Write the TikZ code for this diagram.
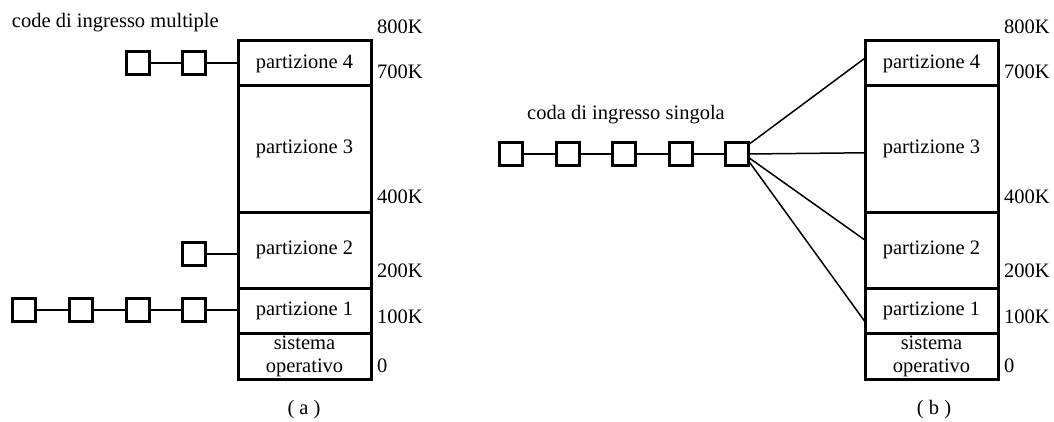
\documentclass[tikz,border=0pt]{standalone}
\usepackage{fontspec}
\setmainfont{Liberation Serif}
\usetikzlibrary{calc}

% one memory column: five stacked partitions plus the address labels
\newcommand\memblock[2]{%
  \node[part, minimum height=45pt]  (#1p4) at (#2,41) {partizione 4};
  \node[part, minimum height=126pt] (#1p3) at (#1p4.south west) {partizione 3};
  \node[part, minimum height=76pt]  (#1p2) at (#1p3.south west) {partizione 2};
  \node[part, minimum height=45pt]  (#1p1) at (#1p2.south west) {partizione 1};
  \node[part, minimum height=46pt, align=center] (#1os) at (#1p1.south west) {sistema\\operativo};
  \node[addr] (#1k800) at ($(#1p4.north east)+(6,-14)$) {800K};
  \node[addr] (#1k700) at ($(#1p4.south east)+(6,-14)$) {700K};
  \node[addr] (#1k400) at ($(#1p3.south east)+(6,-15)$) {400K};
  \node[addr] (#1k200) at ($(#1p2.south east)+(6,-17)$) {200K};
  \node[addr] (#1k100) at ($(#1p1.south east)+(6,-16)$) {100K};
  \node[addr] (#1k0)   at ($(#1os.south east)+(6,-13)$) {0};
}

\begin{document}
\begin{tikzpicture}[x=1pt,y=-1pt,
  every node/.style={font=\fontsize{20.5}{23}\selectfont, inner sep=0pt, outer sep=0pt},
  part/.style={draw, line width=3pt, minimum width=133pt, anchor=north west},
  addr/.style={anchor=west},
  sq/.style={draw, line width=3pt, minimum size=23pt},
  link/.style={line width=2pt},
  fan/.style={line width=1.5pt}]
\useasboundingbox (0,0) rectangle (1054,422);

% (a) separate input queues
\memblock{a}{238}
\node[anchor=west] (titlea) at (12,22.5) {code di ingresso multiple};

\node[sq] (q41) at (137.5,63) {};
\node[sq] (q42) at (193.5,63) {};
\draw[link] (q41) -- (q42);
\draw[link] (q42.east) -- (q42.east -| ap4.west);

\node[sq] (q21) at (193.5,254) {};
\draw[link] (q21.east) -- (q21.east -| ap2.west);

\node[sq] (q11) at (24,310) {};
\node[sq] (q12) at (81,310) {};
\node[sq] (q13) at (137.5,310) {};
\node[sq] (q14) at (193.5,310) {};
\draw[link] (q11) -- (q12);
\draw[link] (q12) -- (q13);
\draw[link] (q13) -- (q14);
\draw[link] (q14.east) -- (q14.east -| ap1.west);

\node (capa) at (304,410) {( a )};

% (b) one shared input queue
\memblock{b}{865}
\node (titleb) at (626,114.5) {coda di ingresso singola};

\node[sq] (r1) at (511,154) {};
\node[sq] (r2) at (567.5,154) {};
\node[sq] (r3) at (624,154) {};
\node[sq] (r4) at (680.5,154) {};
\node[sq] (r5) at (736.5,154) {};
\draw[link] (r1) -- (r2);
\draw[link] (r2) -- (r3);
\draw[link] (r3) -- (r4);
\draw[link] (r4) -- (r5);

\draw[fan] (r5.38)  -- ($(bp4.north west)!0.38!(bp4.south west)$);
\draw[fan] (r5.0)   -- ($(bp3.north west)!0.53!(bp3.south west)$);
\draw[fan] (r5.-15) -- ($(bp2.north west)!0.37!(bp2.south west)$);
\draw[fan] (r5.-28) -- ($(bp1.north west)!0.75!(bp1.south west)$);

\node (capb) at (934,410) {( b )};
\end{tikzpicture}
\end{document}
